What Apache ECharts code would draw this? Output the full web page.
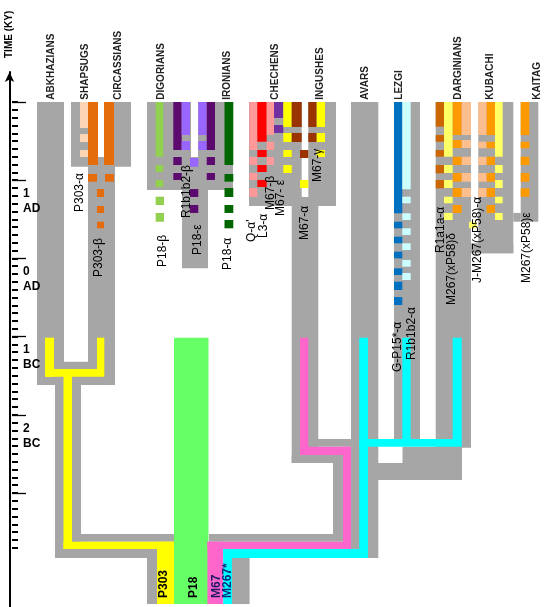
<!DOCTYPE html>
<html><head><meta charset="utf-8">
<script src="https://cdn.jsdelivr.net/npm/echarts@6/dist/echarts.min.js"></script>
<style>html,body{margin:0;padding:0;background:#fff}#c{width:551px;height:607px}</style>
</head><body><div id="c"></div><script>
// ---- DATA ----
// time axis in thousands of years (positive = AD, negative = BC); x = lane position
const popNames = ['ABKHAZIANS','SHAPSUGS','CIRCASSIANS','DIGORIANS','IRONIANS','CHECHENS','INGUSHES','AVARS','LEZGI','DARGINIANS','KUBACHI','KAITAG'];
const popX = [51, 85.5, 118, 161, 227, 275, 320.5, 365, 399, 458, 490, 537];
const popLabelT = 2.03;

const tickValues = [1, 0, -1, -2];
const tickLabels = ['1\nAD', '0\nAD', '1\nBC', '2\nBC'];

// segments: [x0, x1, tStart, tEnd, haplogroup colour key]
const p303Clade = [
  [37,64,2,-1.619,'G'],[71,98,2,1.172,'G'],[104,131,2,1.172,'G'],[88,115,1.297,-1.619,'G'],
  [37,115,-1.321,-1.619,'G'],[55,81,-1.619,-3.831,'G'],[81,175,-3.524,-3.623,'G'],
  [55,157,-3.716,-3.831,'G'],[147,157,-3.716,-4.42,'G'],
  [80,88,2,1.668,'PE'],[80,88,1.591,1.488,'PE'],[80,88,1.386,1.297,'PE'],
  [88,98,2,1.194,'OR'],[104,114,2,1.194,'OR'],
  [88,97,1.079,0.981,'OR'],[105,114,1.079,0.981,'OR'],
  [97,104,0.887,0.785,'OR'],[97,104,0.670,0.581,'OR'],[97,104,0.469,0.385,'OR'],
  [45,54,-1.014,-1.513,'Y'],[97,104.3,-1.014,-1.414,'Y'],[45,104.3,-1.414,-1.513,'Y'],
  [63.5,72,-1.414,-3.716,'Y'],[63.5,175,-3.623,-3.716,'Y'],[157,175,-3.623,-4.42,'Y']
];
const p18Clade = [
  [147,191,2,0.875,'G'],[198,233,2,0.875,'G'],[147,233,1.297,0.875,'G'],[182,208,0.875,-0.127,'G'],
  [155.7,163.3,2,1.30,'LG'],[155.7,163.3,1.194,1.105,'LG'],[155.7,163.3,1.003,0.913,'LG'],
  [155.7,164,0.789,0.683,'LG'],[155.7,164,0.581,0.469,'LG'],
  [173.3,181.7,2,1.386,'DP'],[173.3,181.7,1.297,1.194,'DP'],[173.3,181.7,1.092,1.003,'DP'],
  [181.7,190,2,1.578,'LP'],[181.7,190,1.501,1.386,'LP'],
  [198.3,206.7,2,1.578,'LP'],[198.3,206.7,1.501,1.386,'LP'],
  [206.7,215,2,1.386,'DP'],[206.7,215,1.297,1.194,'DP'],[206.7,215,1.092,1.003,'DP'],
  [190,198.3,1.284,1.172,'LP'],[190,198.3,0.887,0.785,'DP'],[190,198.3,0.683,0.581,'DP'],
  [224.5,233.3,2,1.194,'DG'],[224.5,233.3,1.079,0.981,'DG'],[224.5,233.3,0.90,0.785,'DG'],
  [224.5,233.3,0.683,0.581,'DG'],[224.5,233.3,0.491,0.385,'DG'],
  [174,208.5,-1.014,-4.42,'GR']
];
const m67Clade = [
  [249,301.7,2,0.670,'G'],[308.3,336,2,0.670,'G'],[291.7,318.3,0.785,-2.616,'G'],
  [308,352,-2.309,-2.408,'G'],[291.7,343,-2.514,-2.616,'G'],[333,343,-2.514,-3.524,'G'],
  [209,343,-3.524,-3.623,'G'],
  [249.3,257.3,2,1.386,'SA'],[249.3,257.3,1.297,1.194,'SA'],[249.3,257.3,1.092,1.003,'SA'],[249.3,257.3,0.90,0.785,'SA'],
  [257.3,266.7,2,1.492,'RD'],[257.3,266.7,1.386,1.297,'RD'],[257.3,266.7,1.194,1.105,'RD'],[257.3,266.7,1.003,0.913,'RD'],
  [266.7,274,2,1.578,'SA'],[266.7,274,1.492,1.386,'SA'],[266.7,274,1.297,1.194,'SA'],
  [274,283.3,2,1.795,'PU'],[274,283.3,1.706,1.604,'PU'],
  [283.3,291.7,2,1.68,'YE'],[283.3,291.7,1.604,1.488,'YE'],[283.3,291.7,1.386,1.297,'YE'],[283.3,291.7,1.194,1.092,'YE'],
  [291.7,301.7,2,1.68,'BR'],[291.7,301.7,1.604,1.488,'BR'],
  [300,308.3,1.386,1.284,'BR'],[300,308.3,1.003,0.90,'YE'],
  [308.3,316.7,2,1.68,'BR'],[308.3,316.7,1.604,1.488,'BR'],
  [316.7,325,2,1.68,'YE'],[316.7,325,1.604,1.488,'YE'],[316.7,325,1.386,1.297,'YE'],
  [300,308.3,-1.014,-2.514,'PK'],[300,351.7,-2.408,-2.514,'PK'],[343,351.7,-2.408,-3.716,'PK'],
  [207.4,351.7,-3.623,-3.716,'PK'],[207.4,223.2,-3.623,-4.42,'PK']
];
const m267Clade = [
  [351,378.3,2,-3.831,'G'],[394,420,2,-2.309,'G'],[435.7,471,2,-2.42,'G'],
  [478.3,513.3,2,0.065,'G'],[470,513.3,0.193,0.065,'G'],
  [520.7,538.3,2,0.469,'G'],[513.3,520.7,0.581,0.469,'G'],
  [402.5,462,-2.408,-2.834,'G'],[378,462,-2.616,-2.834,'G'],[232,249.6,-3.831,-4.42,'G'],
  [394,402.3,2,0.577,'BL'],[394,402.3,0.469,0.385,'BL'],[394,402.3,0.278,0.193,'BL'],[394,402.3,0.086,0.001,'BL'],
  [394,402.3,-0.127,-0.212,'BL'],[394,402.3,-0.298,-0.404,'BL'],[394,402.3,-0.494,-0.596,'BL'],
  [402.3,410.7,2,0.884,'LC'],[402.3,410.7,0.789,0.705,'LC'],[402.3,410.7,0.577,0.491,'LC'],[402.3,410.7,0.385,0.299,'LC'],
  [402.3,410.7,0.193,0.107,'LC'],[402.3,410.7,-0.02,-0.106,'LC'],[402.3,410.7,-0.187,-0.276,'LC'],
  [435.7,444,2,1.684,'DO'],[435.7,444,1.578,1.492,'DO'],[435.7,444,1.386,1.30,'DO'],[435.7,444,1.194,1.088,'DO'],[435.7,444,1.003,0.896,'DO'],
  [444,452.7,2,1.30,'LY'],[444,452.7,1.194,1.092,'LY'],[444,452.7,1.003,0.90,'LY'],[444,452.7,0.789,0.705,'LY'],[444,452.7,0.581,0.491,'LY'],
  [452.7,461.7,2,1.578,'OG'],[452.7,461.7,1.514,1.412,'OG'],[452.7,461.7,1.30,1.194,'OG'],[452.7,461.7,1.092,0.981,'OG'],[452.7,461.7,0.90,0.785,'OG'],[452.7,461.7,0.683,0.581,'OG'],
  [461.7,471,2,1.578,'PH'],[461.7,471,1.514,1.412,'PH'],[461.7,471,1.30,1.194,'PH'],[461.7,471,1.092,0.981,'PH'],[461.7,471,0.90,0.785,'PH'],
  [478.3,486.7,2,1.578,'PH'],[478.3,486.7,1.492,1.408,'PH'],[478.3,486.7,1.30,1.194,'PH'],[478.3,486.7,1.092,0.981,'PH'],[478.3,486.7,0.90,0.785,'PH'],
  [486.7,495,2,1.578,'OG'],[486.7,495,1.492,1.408,'OG'],[486.7,495,1.30,1.194,'OG'],[486.7,495,1.092,0.981,'OG'],[486.7,495,0.90,0.785,'OG'],[486.7,495,0.683,0.581,'OG'],
  [495,502.7,2,1.30,'LY'],[495,502.7,1.194,1.092,'LY'],[495,502.7,1.003,0.90,'LY'],[495,502.7,0.789,0.705,'LY'],[495,502.7,0.581,0.491,'LY'],
  [469,476.7,0.469,0.385,'LY'],
  [520.7,529.3,2,1.578,'OG'],[520.7,529.3,1.492,1.408,'OG'],[520.7,529.3,1.30,1.194,'OG'],[520.7,529.3,1.092,0.981,'OG'],[520.7,529.3,0.896,0.789,'OG'],
  [359.2,368,-1.014,-3.831,'CY'],[359.2,461.7,-2.309,-2.408,'CY'],[402.3,410.7,-1.014,-2.309,'CY'],
  [452.7,461.7,-1.014,-2.309,'CY'],[223.2,368,-3.716,-3.831,'CY'],[223.2,232,-3.716,-4.42,'CY']
];

const hgLabelText = ['P303-α','P303-β','P18-β','R1b1b2-β','P18-ε','P18-α','Q-α\'','L3-α','M67-β','M67- ε','M67-α','M67-γ','G-P15*-α','R1b1b2-α','R1a1a-α','M267(xP58)δ','J-M267(xP58)-α','M267(xP58)ε'];
const hgLabelX = [80, 98.5, 163, 187, 198, 228, 252, 263.5, 271, 281, 305, 318, 398, 412, 441, 451.5, 478, 527];
const hgLabelT = [0.593, -0.238, -0.110, 0.517, 0.043, -0.148, 0.210, 0.261, 0.619, 0.542, 0.235, 0.977, -1.453, -1.299, 0.069, -0.596, -0.315, -0.315];

const rootNames = ['P303','P18','M67','M267*'];
const rootX = [164, 194, 217, 228];
const rootT = -4.343;

// ---- STYLE ----
const palette = {
  G:'#a6a6a6', Y:'#ffff00', GR:'#66ff66', PK:'#ff66cc', CY:'#00ffff',
  OR:'#e46c0a', PE:'#fcd5b4', LG:'#92d050', DP:'#5c0a6e', LP:'#9966ff', DG:'#006600',
  SA:'#ff9999', RD:'#ff0000', PU:'#7030a0', YE:'#ffff00', BR:'#993300',
  BL:'#0070c0', LC:'#ccffff', DO:'#cc6600', LY:'#ffff66', OG:'#ff9900', PH:'#fbbf8f'
};
const rootColors = ['#000000','#000000','#1a1a66','#0b2a80'];
const FONT = '"Liberation Sans", Arial, sans-serif';

const T_TOP = 2 + 102/78.2, T_BOTTOM = 2 - 505/78.2;

const allSegs = [].concat(p303Clade, p18Clade, m67Clade, m267Clade);
const segData = allSegs.map(s => ({ value: [s[0], s[1], s[2], s[3]], itemStyle: { color: palette[s[4]] } }));

const texts = [];
popNames.forEach((n, i) => texts.push({ value: [popX[i], popLabelT], text: n, font: 'bold 10px ' + FONT, color: '#222' }));
hgLabelText.forEach((n, i) => texts.push({ value: [hgLabelX[i], hgLabelT[i]], text: n, font: '12px ' + FONT, color: '#000' }));
rootNames.forEach((n, i) => texts.push({ value: [rootX[i], rootT], text: n, font: 'bold 12px ' + FONT, color: rootColors[i] }));

const chart = echarts.init(document.getElementById('c'), null, { renderer: 'canvas' });
chart.setOption({
  animation: false,
  backgroundColor: '#fff',
  grid: [
    { left: 0, right: 0, top: 0, bottom: 0 },
    { left: 12, top: 102, height: 5.7 * 78.2, width: 20 },
    { left: 12, top: 102, height: 5 * 78.2, width: 20 },
    { left: 9.5, top: 72, bottom: 0, width: 20 }
  ],
  xAxis: [
    { gridIndex: 0, type: 'value', min: 0, max: 551, show: false },
    { gridIndex: 1, type: 'value', show: false },
    { gridIndex: 2, type: 'value', show: false },
    { gridIndex: 3, type: 'value', show: false }
  ],
  yAxis: [
    { gridIndex: 0, type: 'value', min: T_BOTTOM, max: T_TOP, show: false },
    { gridIndex: 1, type: 'value', min: -3.7, max: 2, interval: 0.1, z: 10,
      axisLine: { show: false }, splitLine: { show: false }, axisLabel: { show: false },
      axisTick: { show: true, inside: true, length: 6, lineStyle: { color: '#000', width: 2 } } },
    { gridIndex: 2, type: 'value', min: -3, max: 2, interval: 1, z: 10,
      axisLine: { show: false }, splitLine: { show: false },
      axisTick: { show: true, inside: true, length: 14, lineStyle: { color: '#000', width: 1.3 } },
      axisLabel: { show: true, inside: true, margin: 11, align: 'left', verticalAlign: 'top',
        fontWeight: 'bold', fontSize: 12, fontFamily: FONT, color: '#000', lineHeight: 15, padding: [6, 0, 0, 0],
        formatter: v => { const i = tickValues.indexOf(Math.round(v)); return i >= 0 ? tickLabels[i] : ''; } } },
    { gridIndex: 3, type: 'value', min: 0, max: 1, z: 10,
      axisLine: { show: true, symbol: ['none', 'arrow'], symbolSize: [7, 10], lineStyle: { color: '#000', width: 2 } },
      axisTick: { show: false }, axisLabel: { show: false }, splitLine: { show: false } }
  ],
  graphic: [{ type: 'text', x: 9, y: 58, rotation: Math.PI / 2,
    style: { text: 'TIME (KY)', font: 'bold 10px ' + FONT, fill: '#000', align: 'left', verticalAlign: 'middle', textAlign: 'left', textVerticalAlign: 'middle' } }],
  series: [
    { type: 'custom', xAxisIndex: 0, yAxisIndex: 0, silent: true, clip: false, z: 1, data: segData,
      renderItem: (params, api) => {
        const p0 = api.coord([api.value(0), api.value(2)]);
        const p1 = api.coord([api.value(1), api.value(3)]);
        return { type: 'rect', shape: { x: p0[0], y: p0[1], width: p1[0] - p0[0], height: p1[1] - p0[1] },
          style: { fill: api.visual('color') } };
      } },
    { type: 'custom', xAxisIndex: 0, yAxisIndex: 0, silent: true, clip: false, z: 2, data: texts.map(t => t.value),
      renderItem: (params, api) => {
        const it = texts[params.dataIndex];
        const p = api.coord([api.value(0), api.value(1)]);
        return { type: 'text', x: p[0], y: p[1], rotation: Math.PI / 2,
          style: { text: it.text, font: it.font, fill: it.color, align: 'left', verticalAlign: 'middle', textAlign: 'left', textVerticalAlign: 'middle' } };
      } }
  ]
});
</script></body></html>
